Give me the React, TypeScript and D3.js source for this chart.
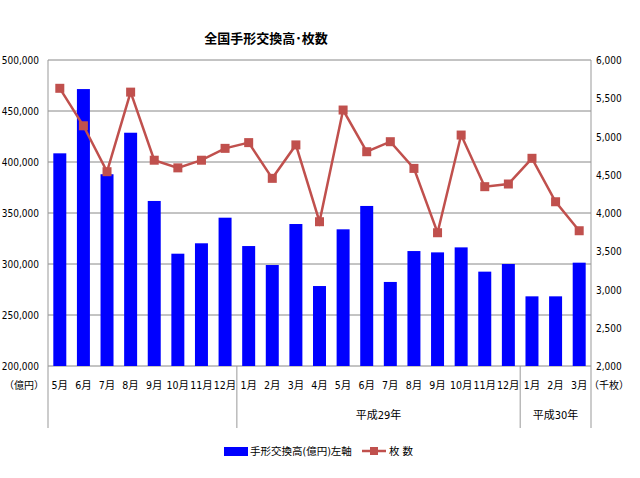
import React from "react";
import * as d3 from "d3";

const categories = [
  "5月", "6月", "7月", "8月", "9月", "10月", "11月", "12月",
  "1月", "2月", "3月", "4月", "5月", "6月", "7月", "8月", "9月", "10月", "11月", "12月",
  "1月", "2月", "3月",
];
const amountValues = [
  408500, 471500, 388000, 428700, 361800, 310100, 320300, 345400,
  317600, 299000, 339200, 278400, 334000, 356900, 282400, 312700, 311400, 316300, 292500, 300000,
  268300, 268300, 301300,
];
const countValues = [
  5630, 5140, 4540, 5580, 4690, 4590, 4690, 4845,
  4920, 4453, 4890, 3886, 5346, 4801, 4932, 4583, 3742, 5019, 4344, 4379,
  4715, 4147, 3768,
];
const leftTicks = [200000, 250000, 300000, 350000, 400000, 450000, 500000];
const rightTicks = [2000, 2500, 3000, 3500, 4000, 4500, 5000, 5500, 6000];
const groups = [
  { label: "", start: 0, end: 8 },
  { label: "平成29年", start: 8, end: 20 },
  { label: "平成30年", start: 20, end: 23 },
];

const W = 640, H = 478;
const left = 48, right = 591, top = 60, bottom = 366;
const font = "'Liberation Sans Narrow', 'DejaVu Sans Condensed', 'Noto Sans CJK JP', sans-serif";
const cjk = "'Noto Sans CJK JP', sans-serif";

export default function App() {
  const x = d3.scaleBand<number>().domain(d3.range(categories.length)).range([left, right]).paddingInner(0.45).paddingOuter(0.225);
  const xc = d3.scaleBand<number>().domain(d3.range(categories.length)).range([left, right]);
  const yL = d3.scaleLinear().domain([200000, 500000]).range([bottom, top]);
  const yR = d3.scaleLinear().domain([2000, 6000]).range([bottom, top]);
  const fmt = d3.format(",");
  const line = d3.line<number>().x((_, i) => (xc(i) as number) + xc.bandwidth() / 2).y((d) => yR(d));
  const step = xc.step();
  const bottomExt = 428;

  return (
    <svg width={W} height={H} style={{ position: "absolute", left: 0, top: 0, background: "#fff" }}>
      <rect x={0} y={0} width={W} height={H} fill="#fff" />
      <text x={266} y={43} textAnchor="middle" fontFamily={cjk} fontSize={13} fontWeight="bold" fill="#000">全国手形交換高･枚数</text>
      {leftTicks.map((t) => (
        <g key={t}>
          <line x1={left} x2={right} y1={yL(t)} y2={yL(t)} stroke="#888" strokeWidth={1} />
          <text x={39} y={yL(t) + 4} textAnchor="end" fontFamily={font} fontSize={10} fill="#000">{fmt(t)}</text>
        </g>
      ))}
      {rightTicks.map((t) => (
        <text key={t} x={596} y={yR(t) + 4} textAnchor="start" fontFamily={font} fontSize={10} fill="#000">{fmt(t)}</text>
      ))}
      {amountValues.map((v, i) => (
        <rect key={i} x={x(i)} y={yL(v)} width={x.bandwidth()} height={bottom - yL(v)} fill="#0000ff" />
      ))}
      <line x1={left} x2={left} y1={top} y2={bottomExt} stroke="#999" />
      <line x1={right} x2={right} y1={top} y2={bottomExt} stroke="#999" />
      {groups.slice(1).map((g) => (
        <line key={g.label} x1={left + g.start * step} x2={left + g.start * step} y1={bottom} y2={bottomExt} stroke="#999" />
      ))}
      <path d={line(countValues) || ""} fill="none" stroke="#c0504d" strokeWidth={2.5} />
      {countValues.map((v, i) => (
        <rect key={i} x={(xc(i) as number) + xc.bandwidth() / 2 - 4.5} y={yR(v) - 4.5} width={9} height={9} fill="#c0504d" />
      ))}
      {categories.map((c, i) => (
        <text key={i} x={(xc(i) as number) + xc.bandwidth() / 2} y={389} textAnchor="middle" fontFamily={font} fontSize={10.5} fill="#000">{c}</text>
      ))}
      <text x={24} y={389} textAnchor="middle" fontFamily={font} fontSize={10} fill="#000">（億円）</text>
      <text x={609} y={389} textAnchor="middle" fontFamily={font} fontSize={10} fill="#000">（千枚）</text>
      {groups.filter((g) => g.label).map((g) => (
        <text key={g.label} x={left + ((g.start + g.end) / 2) * step} y={419} textAnchor="middle" fontFamily={font} fontSize={11} fill="#000">{g.label}</text>
      ))}
      <rect x={224} y={447} width={24} height={9} fill="#0000ff" />
      <text x={250} y={455} fontFamily={font} fontSize={10.5} fill="#000">手形交換高(億円)左軸</text>
      <line x1={362} x2={386} y1={451} y2={451} stroke="#c0504d" strokeWidth={2.5} />
      <rect x={370} y={447} width={8} height={8} fill="#c0504d" />
      <text x={389} y={455} fontFamily={font} fontSize={10.5} fill="#000">枚 数</text>
    </svg>
  );
}
